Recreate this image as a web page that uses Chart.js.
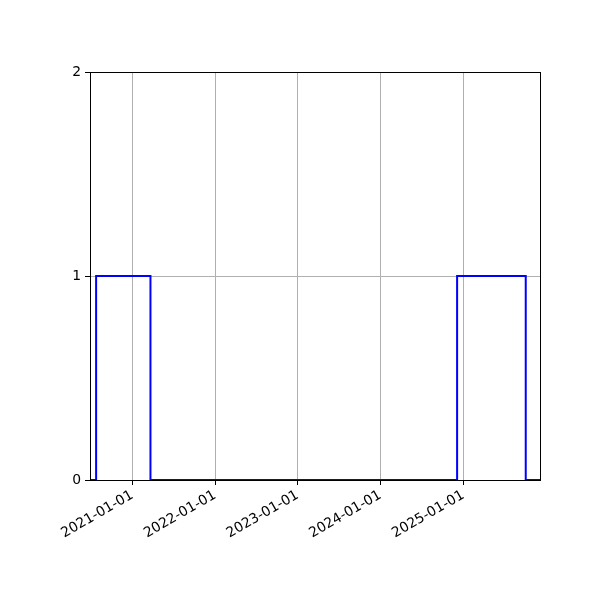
<!DOCTYPE html>
<html>
<head>
<meta charset="utf-8">
<script src="https://cdn.jsdelivr.net/npm/chart.js@4.4.0/dist/chart.umd.min.js"></script>
<style>
  html, body { margin: 0; padding: 0; background: #fff; }
  #wrap { width: 600px; height: 600px; }
</style>
</head>
<body>
<div id="wrap"><canvas id="chart" width="600" height="600"></canvas></div>
<script>
// step series (value held until the next date)
const stepDates = ['2020-06-28', '2020-07-25', '2021-03-22', '2024-12-05', '2025-10-04', '2025-12-06'];
const stepValues = [0, 1, 0, 1, 0, 0];
const tickDates = ['2021-01-01', '2022-01-01', '2023-01-01', '2024-01-01', '2025-01-01'];
const yTicks = [0, 1, 2];
const xRange = ['2020-06-28', '2025-12-06'];

const ms = (s) => Date.parse(s + 'T00:00:00Z');
const fmt = (v) => new Date(v).toISOString().slice(0, 10);

// box around the plot area, like matplotlib spines
const frame = {
    id: 'frame',
    afterDatasetsDraw(chart) {
        const a = chart.chartArea;
        const ctx = chart.ctx;
        ctx.save();
        ctx.strokeStyle = '#000';
        ctx.lineWidth = 1;
        ctx.strokeRect(Math.round(a.left) + 0.5, Math.round(a.top) + 0.5,
            Math.round(a.right - a.left), Math.round(a.bottom - a.top));
        ctx.restore();
    }
};

const ctx = document.getElementById('chart').getContext('2d');
new Chart(ctx, {
    type: 'line',
    data: {
        datasets: [{
            data: stepDates.map((d, i) => ({ x: ms(d), y: stepValues[i] })),
            borderColor: '#0000ff',
            borderWidth: 2,
            stepped: 'before',
            pointRadius: 0,
            fill: false
        }]
    },
    options: {
        responsive: false,
        animation: false,
        devicePixelRatio: 1,
        layout: { padding: { left: 0, top: 72, right: 60, bottom: 0 } },
        plugins: { legend: { display: false }, tooltip: { enabled: false } },
        scales: {
            x: {
                type: 'linear',
                min: ms(xRange[0]),
                max: ms(xRange[1]),
                afterBuildTicks: (s) => { s.ticks = tickDates.map(d => ({ value: ms(d) })); },
                afterFit: (s) => { s.height = 120; },
                grid: { color: '#b0b0b0', lineWidth: 1, tickColor: '#000', tickLength: 5 },
                border: { color: '#000' },
                ticks: {
                    autoSkip: false,
                    minRotation: 30,
                    maxRotation: 30,
                    padding: 2,
                    color: '#000',
                    font: { family: 'DejaVu Sans', size: 13.9 },
                    callback: (v) => fmt(v)
                }
            },
            y: {
                min: 0,
                max: 2,
                afterBuildTicks: (s) => { s.ticks = yTicks.map(v => ({ value: v })); },
                afterFit: (s) => { s.width = 90; },
                grid: { color: '#b0b0b0', lineWidth: 1, tickColor: '#000', tickLength: 5 },
                border: { color: '#000' },
                ticks: {
                    padding: 4,
                    color: '#000',
                    font: { family: 'DejaVu Sans', size: 13.9 }
                }
            }
        }
    },
    plugins: [frame]
});
</script>
</body>
</html>
